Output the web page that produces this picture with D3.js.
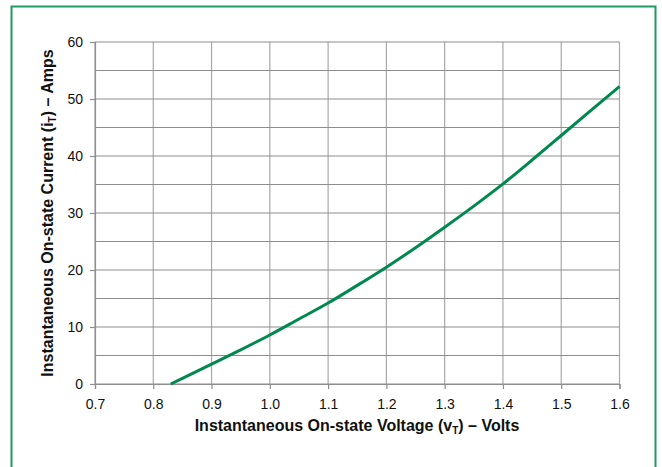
<!DOCTYPE html>
<html><head><meta charset="utf-8">
<script src="https://cdn.jsdelivr.net/npm/d3@7/dist/d3.min.js"></script>
<style>body{margin:0;background:#fff}svg{display:block}text{font-family:"Liberation Sans",Arial,sans-serif;fill:#111}</style>
</head><body>
<svg id="c" width="662" height="467"></svg>
<script>
const voltage = [0.83,0.85,0.9,0.95,1.0,1.05,1.1,1.15,1.2,1.25,1.3,1.35,1.4,1.45,1.5,1.55,1.6];
const current = [0,1.0,3.5,6.0,8.6,11.4,14.2,17.3,20.5,23.9,27.5,31.2,35.1,39.3,43.6,47.9,52.2];
const xTicks = [0.7,0.8,0.9,1.0,1.1,1.2,1.3,1.4,1.5,1.6];
const yTicks = [0,10,20,30,40,50,60];
const yGrid = [0,5,10,15,20,25,30,35,40,45,50,55,60];

const svg = d3.select("#c");
svg.append("path").attr("d","M11.5,470 V6.5 H655.5 V470").attr("fill","none").attr("stroke","#1e9a62").attr("stroke-width",2);

const x = d3.scaleLinear().domain([0.7,1.6]).range([95,619.5]);
const y = d3.scaleLinear().domain([0,60]).range([384,42]);

const g = svg.append("g");
g.selectAll(".vg").data(xTicks).join("line").attr("x1",d=>x(d)).attr("x2",d=>x(d)).attr("y1",y(0)).attr("y2",y(60)).attr("stroke","#a8a8a8").attr("stroke-width",1.2);
g.selectAll(".hg").data(yGrid).join("line").attr("x1",x(0.7)).attr("x2",x(1.6)).attr("y1",d=>y(d)).attr("y2",d=>y(d)).attr("stroke","#8e8e8e").attr("stroke-width",1.2);

const xa = svg.append("g").attr("transform",`translate(0,${y(0)})`).call(d3.axisBottom(x).tickValues(xTicks).tickFormat(d3.format(".1f")).tickSize(5).tickPadding(10));
const ya = svg.append("g").attr("transform",`translate(${x(0.7)},0)`).call(d3.axisLeft(y).tickValues(yTicks).tickSize(5).tickPadding(7));
[xa,ya].forEach(a=>{a.attr("font-size",null).attr("font-family",null);a.select(".domain").attr("stroke","#8e8e8e").attr("stroke-width",1.2);a.selectAll(".tick line").attr("stroke","#8e8e8e").attr("stroke-width",1.2);a.selectAll("text").style("font-size","14px").attr("fill","#111");});

const line = d3.line().x((d,i)=>x(voltage[i])).y(d=>y(d)).curve(d3.curveMonotoneX);
svg.append("path").datum(current).attr("d",line).attr("fill","none").attr("stroke","#00894e").attr("stroke-width",3);

const xt = svg.append("text").attr("x",357).attr("y",431).attr("text-anchor","middle").style("font-size","16px").style("font-weight","bold");
xt.append("tspan").text("Instantaneous On-state Voltage (v");
xt.append("tspan").attr("dy",3).style("font-size","10px").text("T");
xt.append("tspan").attr("dy",-3).text(") – Volts");

const yt = svg.append("text").attr("transform",`translate(53,213) rotate(-90)`).attr("text-anchor","middle").style("font-size","16px").style("font-weight","bold");
yt.append("tspan").text("Instantaneous On-state Current (i");
yt.append("tspan").attr("dy",3).style("font-size","10px").text("T");
yt.append("tspan").attr("dy",-3).text(") – Amps");
</script>
</body></html>
